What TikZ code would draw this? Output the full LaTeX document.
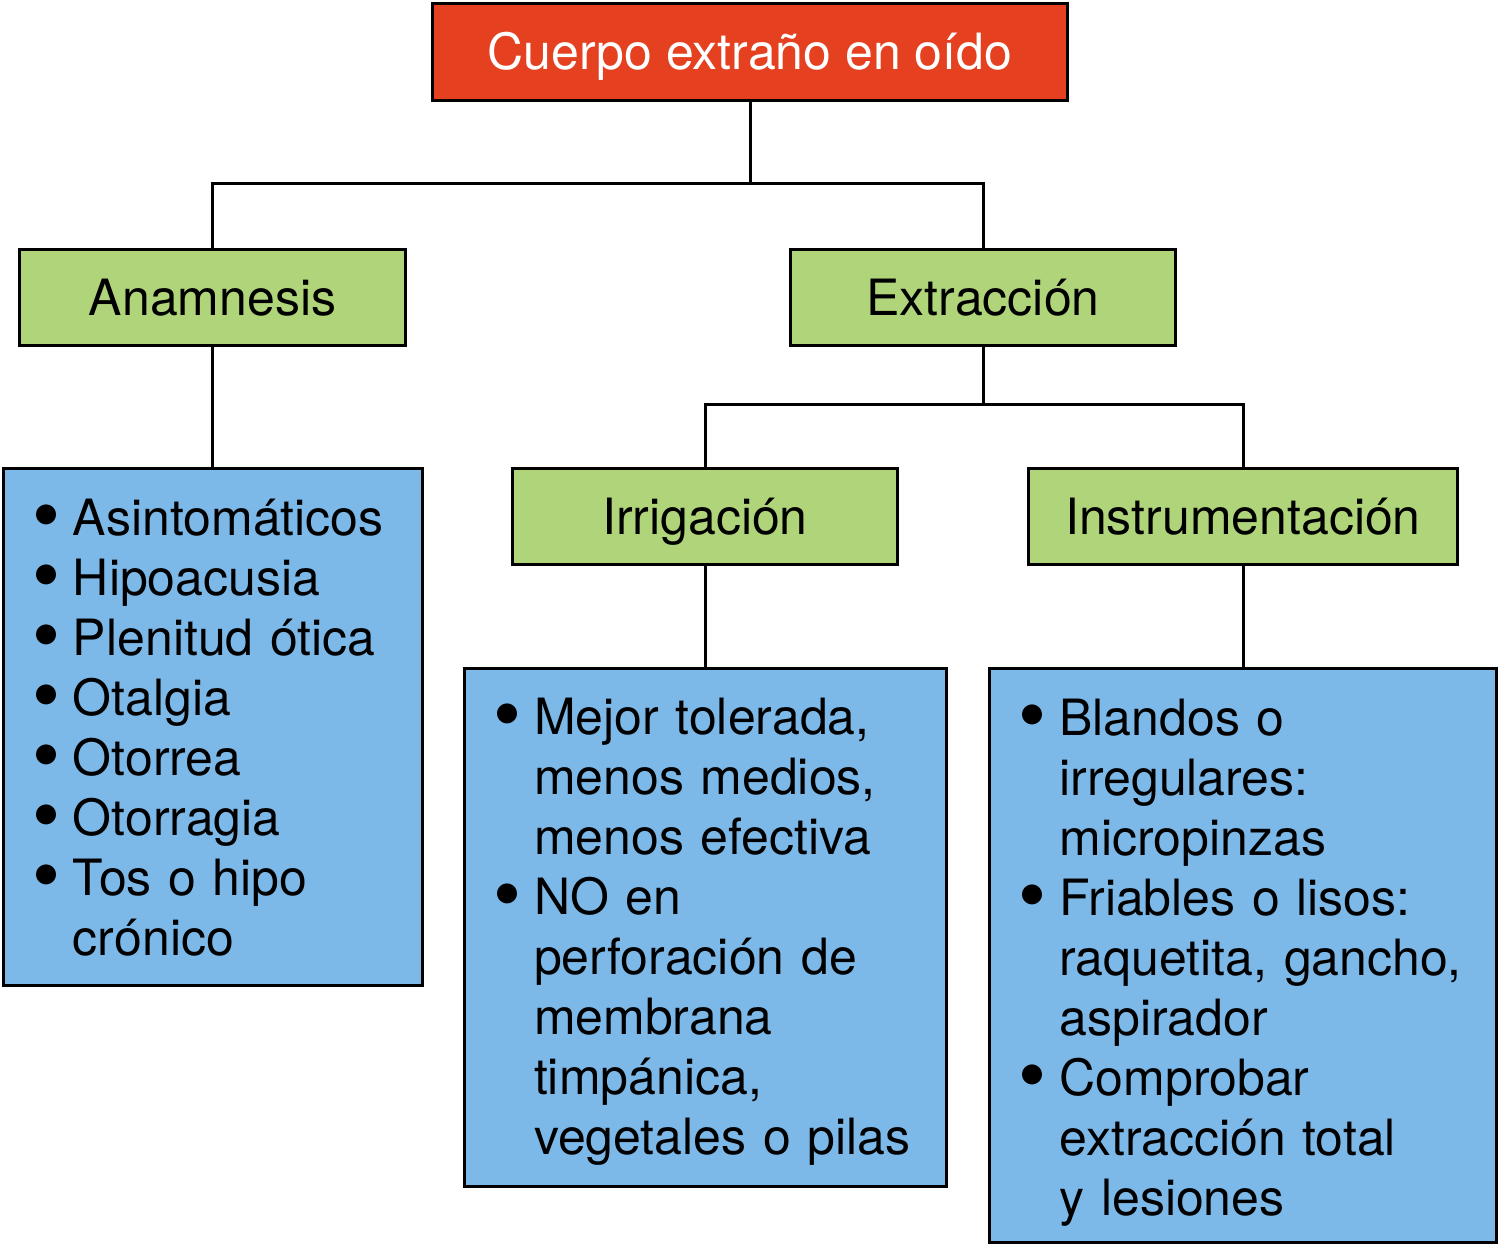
\documentclass[tikz,border=0pt]{standalone}
\usepackage{fontspec}
\setmainfont{TeX Gyre Heros}
\definecolor{rootred}{RGB}{229,64,31}
\definecolor{headgreen}{RGB}{176,212,121}
\definecolor{listblue}{RGB}{125,185,232}
\newcommand{\bul}[1]{\par\leftskip=17pt\hangindent=18pt\hangafter=1\noindent
	\makebox[18pt][l]{\hspace{-2.5pt}\raisebox{-3.5pt}{\scalebox{1.6}{\textbullet}}}#1\par}
\newcommand{\botpad}[1]{\par\vskip#1\hrule height 0pt width 0pt}

\begin{document}
\begin{tikzpicture}[x=0.5pt, y=-0.5pt,
		box/.style={draw, line width=1.5pt, inner sep=0pt, font=\fontsize{25}{30}\selectfont},
		rootbox/.style={box, fill=rootred, text=white, minimum width=317.5pt, minimum height=48.5pt,
			text height=20pt, text depth=2pt},
		headbox/.style={box, fill=headgreen, minimum height=48pt, text height=20pt, text depth=2pt},
		listbox/.style={box, fill=listblue, align=left},
		link/.style={line width=1.5pt}]
			%%%%% START %%%%%
			\useasboundingbox (0,0) rectangle (1500,1246);
			
			\node[rootbox] (root) at (750,52) {Cuerpo extraño en oído};
			
			\node[headbox, minimum width=193pt] (anam) at (212.5,297.5) {Anamnesis};
			\node[headbox, minimum width=192.5pt] (extr) at (983,297.5) {Extracción};
			\node[headbox, minimum width=192.5pt] (irrig) at (705,516) {Irrigación};
			\node[headbox, minimum width=214.5pt] (instr) at (1243,516) {Instrumentación};
			
			% list boxes, text kept at the top
			\node[listbox, text width=209.5pt, minimum height=258.5pt] (anamlist) at (212.5,727) {
				\bul{Asintomáticos}
				\bul{Hipoacusia}
				\bul{Plenitud ótica}
				\bul{Otalgia}
				\bul{Otorrea}
				\bul{Otorragia}
				\bul{Tos o hipo\newline crónico}
				\botpad{11pt}};
			\node[listbox, text width=241pt, minimum height=259pt] (irriglist) at (705,927.5) {
				\bul{Mejor tolerada,\newline menos medios,\newline menos efectiva}
				\bul{NO en\newline perforación de\newline membrana\newline timpánica,\newline vegetales o pilas}
				\botpad{8pt}};
			\node[listbox, text width=253.5pt, minimum height=287pt] (instrlist) at (1243,955.5) {
				\bul{Blandos o\newline irregulares:\newline micropinzas}
				\bul{Friables o lisos:\newline raquetita, gancho,\newline aspirador}
				\bul{Comprobar\newline extracción total\newline y lesiones}
				\botpad{5pt}};
			
			\coordinate (rootfork) at (750,184);
			\coordinate (extrfork) at (983,404);
			
			\draw[link] (root.south) -- (rootfork);
			\draw[link] (anam.north) |- (rootfork) -| (extr.north);
			\draw[link] (anam.south) -- (anamlist.north);
			
			\draw[link] (extr.south) -- (extrfork);
			\draw[link] (irrig.north) |- (extrfork) -| (instr.north);
			\draw[link] (irrig.south) -- (irriglist.north);
			\draw[link] (instr.south) -- (instrlist.north);
			
			%%%%% END %%%%%
\end{tikzpicture}
\end{document}
